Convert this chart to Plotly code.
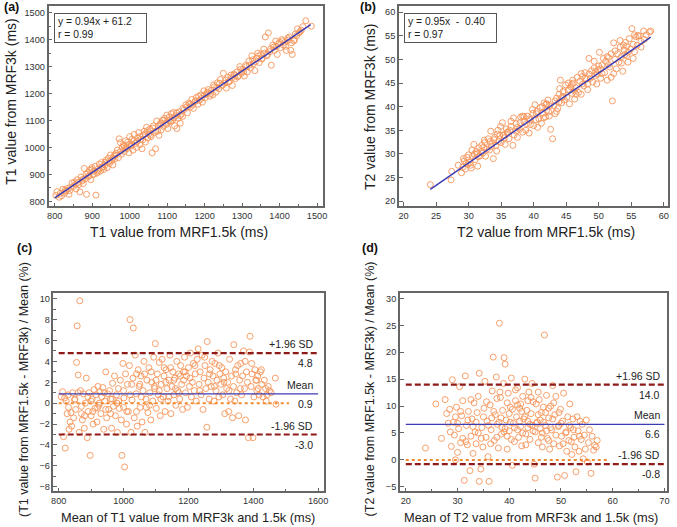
import plotly.graph_objects as go

W, H = 677, 527

# ---- (a) T1: MRF1.5k vs MRF3k (ms)
t1_x = [803, 806, 812, 818, 822, 826, 830, 834, 838, 842,
        846, 850, 853, 857, 860, 864, 867, 870, 873, 876,
        879, 882, 885, 888, 890, 893, 896, 899, 902, 905,
        908, 910, 913, 916, 919, 922, 925, 928, 931, 934,
        937, 940, 943, 946, 949, 952, 955, 958, 961, 964,
        967, 970, 972, 975, 978, 980, 983, 986, 989, 992,
        995, 998, 1000, 1003, 1006, 1009, 1012, 1015, 1018, 1021,
        1024, 1027, 1030, 1033, 1036, 1039, 1042, 1045, 1048, 1051,
        1054, 1057, 1060, 1063, 1066, 1069, 1072, 1075, 1078, 1081,
        1084, 1087, 1090, 1093, 1096, 1099, 1102, 1105, 1108, 1111,
        1114, 1117, 1120, 1123, 1126, 1129, 1132, 1135, 1138, 1141,
        1145, 1150, 1154, 1158, 1162, 1166, 1170, 1174, 1178, 1182,
        1186, 1190, 1194, 1198, 1202, 1206, 1210, 1214, 1218, 1222,
        1226, 1230, 1234, 1238, 1242, 1246, 1250, 1254, 1258, 1262,
        1266, 1270, 1274, 1278, 1282, 1286, 1290, 1294, 1298, 1302,
        1306, 1310, 1314, 1318, 1322, 1326, 1330, 1334, 1338, 1342,
        1346, 1350, 1354, 1358, 1362, 1366, 1370, 1374, 1378, 1382,
        1386, 1390, 1394, 1398, 1402, 1406, 1410, 1414, 1418, 1422,
        1426, 1430, 1434, 1438, 1442, 1448, 1455, 1462, 1470, 1485,
        815, 828, 840, 855, 862, 875, 884, 892, 898, 905,
        915, 926, 935, 945, 955, 962, 975, 985, 990, 997,
        1005, 1012, 1020, 1028, 1035, 1041, 1047, 1055, 1062, 1070,
        1076, 1083, 1090, 1098, 1104, 1110, 1118, 1125, 1135, 1142,
        1152, 1160, 1168, 1176, 1184, 1192, 1200, 1208, 1216, 1224,
        1232, 1240, 1248, 1256, 1264, 1272, 1280, 1288, 1296, 1304,
        1312, 1320, 1328, 1336, 1344, 1352, 1360, 1368, 1376, 1384,
        1392, 1400, 1408, 1416, 1424, 1432, 1440, 1446, 1452, 1458]
t1_y = [822, 836, 815, 820, 845, 830, 838, 848, 826, 852,
        868, 855, 872, 846, 880, 862, 835, 890, 876, 866,
        922, 884, 826, 906, 892, 916, 880, 925, 900, 912,
        930, 823, 905, 920, 938, 912, 944, 925, 918, 935,
        952, 925, 960, 940, 972, 950, 935, 968, 958, 978,
        990, 962, 1032, 1018, 975, 1000, 1010, 985, 1025, 995,
        1020, 980, 1040, 1005, 1030, 990, 1048, 1015, 1000, 1035,
        1055, 1010, 1030, 995, 1045, 1060, 1020, 1075, 1035, 1050,
        1068, 1040, 980, 1080, 1055, 995, 1098, 1060, 1045, 1085,
        1065, 1100, 1078, 1108, 1090, 1120, 1070, 1112, 1095, 1125,
        1100, 1130, 1080, 1118, 1070, 1108, 1132, 1090, 1125, 1115,
        1140, 1158, 1128, 1165, 1150, 1178, 1145, 1170, 1185, 1160,
        1175, 1195, 1168, 1210, 1185, 1200, 1215, 1190, 1212, 1195,
        1225, 1205, 1240, 1218, 1252, 1230, 1275, 1238, 1220, 1260,
        1245, 1268, 1230, 1272, 1255, 1280, 1265, 1300, 1275, 1290,
        1265, 1305, 1280, 1320, 1295, 1340, 1310, 1285, 1330, 1350,
        1315, 1345, 1330, 1365, 1410, 1340, 1425, 1355, 1305, 1380,
        1360, 1395, 1345, 1385, 1370, 1400, 1380, 1390, 1360, 1405,
        1410, 1360, 1345, 1395, 1420, 1440, 1430, 1448, 1470, 1450,
        830, 842, 840, 862, 870, 882, 900, 895, 918, 900,
        912, 928, 945, 948, 960, 972, 985, 1005, 1000, 1010,
        1012, 1025, 1022, 1040, 1028, 1050, 1062, 1045, 1072, 1060,
        1080, 1090, 1100, 1085, 1100, 1098, 1110, 1128, 1118, 1145,
        1150, 1160, 1158, 1172, 1190, 1182, 1195, 1205, 1200, 1232,
        1222, 1238, 1232, 1250, 1242, 1258, 1268, 1262, 1290, 1280,
        1300, 1305, 1325, 1318, 1340, 1328, 1350, 1345, 1365, 1372,
        1375, 1390, 1395, 1375, 1398, 1388, 1400, 1415, 1425, 1435]

# ---- (b) T2: MRF1.5k vs MRF3k (ms)
t2_x = [24.1, 27.3, 27.4, 28.4, 28.9, 29.1, 29.3, 29.5, 29.7, 29.9,
        30.0, 30.2, 30.4, 30.6, 30.8, 31.0, 31.2, 31.4, 31.6, 31.8,
        32.0, 32.2, 32.4, 32.6, 32.8, 33.0, 33.2, 33.4, 33.6, 33.8,
        34.0, 34.2, 34.4, 34.6, 34.8, 35.0, 35.2, 35.4, 35.6, 35.8,
        36.0, 36.2, 36.5, 36.8, 37.0, 37.3, 37.5, 37.8, 38.0, 38.3,
        38.5, 38.8, 39.0, 39.3, 39.5, 39.8, 40.0, 40.2, 40.4, 40.6,
        40.8, 41.0, 41.2, 41.4, 41.6, 41.8, 42.0, 42.2, 42.4, 42.6,
        42.9, 43.1, 43.3, 43.5, 43.7, 43.9, 44.1, 44.3, 44.5, 44.7,
        44.9, 45.1, 45.3, 45.5, 45.7, 45.9, 46.1, 46.3, 46.5, 46.7,
        46.9, 47.1, 47.3, 47.5, 47.7, 47.9, 48.1, 48.3, 48.5, 48.7,
        48.9, 49.1, 49.3, 49.5, 49.7, 49.9, 50.1, 50.3, 50.5, 50.7,
        50.9, 51.1, 51.3, 51.5, 51.7, 51.9, 52.1, 52.3, 52.5, 52.7,
        52.9, 53.1, 53.3, 53.5, 53.7, 53.9, 54.1, 54.3, 54.5, 54.7,
        54.9, 55.1, 55.3, 55.5, 55.7, 55.9, 56.2, 56.5, 56.9, 57.3,
        57.8, 58.0, 29.6, 30.5, 31.5, 32.5, 33.5, 34.5, 35.5, 36.5,
        37.5, 38.5, 39.5, 40.5, 41.5, 42.5, 43.5, 44.5, 45.5, 46.5,
        47.5, 48.5, 49.5, 50.5, 51.5, 52.5, 53.5, 54.5, 55.5, 56.5,
        29.2, 30.3, 31.3, 32.3, 33.3, 34.3, 35.3, 36.3, 37.3, 38.3,
        39.3, 40.3, 41.3, 42.3, 43.3, 44.3, 45.3, 46.3, 47.3, 48.3,
        49.3, 50.3, 51.3, 52.3, 53.3, 54.3, 55.3, 44.0, 49.8, 53.8,
        31.9, 33.9, 35.9, 37.9, 39.9, 41.9, 43.9, 45.9, 47.9, 51.9,
        30.9, 34.9, 38.9, 42.0, 46.0, 50.0, 54.0, 56.0, 57.0, 36.9]
t2_y = [23.5, 24.5, 26.3, 27.6, 26.0, 27.2, 28.5, 26.8, 29.3, 27.8,
        29.8, 28.2, 27.0, 29.5, 32.0, 28.8, 30.5, 27.4, 31.3, 29.6,
        31.8, 30.2, 32.9, 29.5, 31.0, 33.2, 30.8, 34.8, 32.2, 29.0,
        33.5, 31.8, 34.2, 32.6, 33.9, 32.4, 36.6, 34.0, 32.0, 35.3,
        34.6, 33.2, 35.8, 31.8, 34.0, 36.4, 33.5, 35.2, 37.8, 34.6,
        36.8, 35.0, 38.0, 34.4, 37.2, 39.4, 36.0, 40.4, 38.5, 35.6,
        37.4, 39.8, 36.5, 38.6, 40.8, 37.8, 39.2, 41.4, 38.0, 35.2,
        33.2, 40.2, 38.5, 41.8, 39.6, 42.6, 45.6, 40.8, 43.2, 41.4,
        44.6, 42.0, 43.5, 40.6, 44.2, 42.8, 45.0, 41.6, 44.0, 46.2,
        43.0, 45.4, 42.6, 46.4, 44.4, 47.2, 45.8, 43.6, 50.2, 46.0,
        47.6, 45.2, 48.2, 46.6, 44.8, 47.8, 51.5, 46.0, 48.8, 50.2,
        47.2, 49.6, 45.6, 50.4, 48.4, 46.2, 41.2, 53.5, 50.0, 48.0,
        51.2, 49.4, 52.6, 50.6, 47.5, 52.0, 53.6, 50.8, 49.4, 54.4,
        52.2, 56.5, 53.2, 51.6, 54.8, 53.0, 55.0, 53.8, 56.0, 55.2,
        55.8, 56.0, 28.0, 30.8, 29.4, 32.4, 31.6, 35.0, 33.4, 36.9,
        35.6, 37.9, 36.2, 39.0, 37.6, 40.2, 39.0, 42.2, 43.6, 42.6,
        44.8, 46.9, 47.4, 47.0, 48.9, 51.8, 49.2, 51.5, 55.2, 52.6,
        29.0, 27.6, 30.0, 31.4, 32.6, 30.6, 34.0, 35.0, 34.8, 38.0,
        37.4, 37.2, 40.0, 38.9, 41.2, 41.9, 45.0, 43.3, 47.0, 44.8,
        49.6, 48.0, 50.6, 47.0, 54.0, 52.8, 50.2, 43.8, 46.9, 53.0,
        30.5, 33.0, 34.5, 36.6, 38.6, 40.5, 41.0, 44.8, 46.0, 51.2,
        30.0, 35.8, 36.4, 40.6, 45.6, 48.6, 51.0, 55.0, 54.2, 37.6]

# ---- (c) Bland-Altman T1: mean (ms) vs difference (%)
ba1_mean = [808, 812, 815, 818, 820, 823, 826, 829, 832, 835,
            838, 840, 843, 846, 849, 852, 855, 857, 860, 863,
            865, 867, 870, 873, 876, 879, 882, 885, 888, 891,
            894, 897, 900, 903, 906, 909, 912, 915, 918, 921,
            924, 927, 930, 933, 936, 939, 942, 945, 948, 951,
            954, 957, 960, 963, 966, 969, 972, 975, 978, 981,
            984, 987, 990, 993, 995, 998, 1001, 1003, 1006, 1009,
            1012, 1015, 1018, 1020, 1023, 1026, 1029, 1030, 1033, 1036,
            1039, 1042, 1045, 1048, 1051, 1054, 1057, 1060, 1063, 1066,
            1069, 1072, 1075, 1078, 1081, 1084, 1087, 1090, 1093, 1096,
            1098, 1101, 1104, 1107, 1110, 1113, 1116, 1119, 1122, 1125,
            1128, 1131, 1134, 1137, 1140, 1143, 1146, 1149, 1152, 1155,
            1158, 1161, 1164, 1167, 1170, 1173, 1176, 1179, 1182, 1185,
            1188, 1191, 1194, 1197, 1200, 1203, 1206, 1209, 1212, 1215,
            1218, 1221, 1224, 1227, 1230, 1233, 1236, 1239, 1242, 1245,
            1248, 1251, 1254, 1257, 1258, 1261, 1264, 1267, 1270, 1273,
            1276, 1279, 1282, 1285, 1288, 1291, 1294, 1297, 1300, 1303,
            1306, 1309, 1312, 1315, 1318, 1321, 1324, 1327, 1330, 1333,
            1336, 1339, 1340, 1343, 1346, 1349, 1352, 1355, 1358, 1361,
            1364, 1367, 1370, 1373, 1376, 1379, 1382, 1385, 1388, 1390,
            1393, 1396, 1399, 1402, 1405, 1408, 1411, 1414, 1418, 1422,
            1426, 1430, 1434, 1438, 1442, 1446, 1450, 1468, 1470, 1415,
            830, 850, 870, 890, 905, 925, 945, 965, 985, 1000,
            1010, 1025, 1040, 1055, 1070, 1085, 1100, 1115, 1130, 1145,
            1160, 1175, 1190, 1205, 1220, 1235, 1250, 1265, 1280, 1295,
            1310, 1325, 1345, 1360, 1375, 1395, 1410, 1425, 1440, 1455,
            860, 880, 900, 920, 940, 960, 980, 1000, 1020, 1040,
            1050, 1065, 1080, 1095, 1110, 1125, 1140, 1155, 1170, 1185]
ba1_diff = [0.6, 1.1, -3.2, 0.5, -4.3, 0.2, -1.0, 0.8, -2.5, -1.8,
            -0.9, -2.2, 1.0, -1.4, 0.3, -0.6, 3.9, 7.4, 2.7, -2.8,
            9.8, 1.2, -0.3, -1.6, 0.9, -2.4, 0.0, 2.4, -3.3, -0.8,
            1.0, -5.0, -1.2, 0.4, -2.0, 1.3, -0.5, 0.8, -1.8, 1.6,
            -0.2, 1.1, -1.0, 0.6, 1.5, -2.5, 0.2, 3.0, -1.4, 0.9,
            -0.6, 1.2, 0.4, -2.4, 1.9, -0.3, 2.6, -1.2, 0.8, -2.8,
            1.4, -0.5, 2.2, -1.6, -5.0, 3.8, 0.5, -6.1, 2.8, -2.0,
            1.8, -0.8, 3.6, 8.0, -2.8, 0.3, 2.4, 7.2, -1.4, 4.6,
            0.9, -2.2, 3.2, 1.6, -0.4, 2.6, -1.8, 1.2, 4.0, -2.8,
            0.4, 2.2, -0.9, 3.4, 1.0, -1.6, 2.0, 0.2, 4.4, 1.4,
            5.7, -0.5, 2.8, 0.8, 3.9, -1.2, 1.8, 4.2, 0.6, 2.6,
            -0.8, 3.2, 1.4, 0.2, 2.2, 4.6, -1.0, 1.6, 3.0, 0.8,
            2.4, -0.2, 4.0, 1.2, 2.8, 0.4, 3.6, 1.8, -0.6, 2.2,
            4.4, 1.0, 2.6, -0.4, 3.4, 1.6, 4.8, 0.6, 2.0, 3.8,
            1.2, 2.8, 0.2, 4.2, 5.2, 1.8, 3.0, 0.8, 4.6, -0.6,
            2.4, 3.6, 1.4, -2.3, 5.9, 2.0, 0.4, 3.2, 1.6, 4.0,
            2.6, 0.2, 3.8, 1.2, 2.2, 4.8, 0.6, 2.8, 1.8, 3.4,
            0.8, 2.4, -1.0, 3.0, 1.4, 2.0, -0.8, 4.2, 0.4, 2.6,
            -1.4, 1.6, 5.6, 0.2, 2.8, 1.0, 3.6, -1.2, 2.2, 3.8,
            0.8, 2.6, 5.0, 1.4, -1.6, 3.0, 2.0, -3.3, 4.9, 6.4,
            1.6, 2.8, -3.3, 0.6, 3.2, 2.2, 1.2, 2.6, 0.8, 3.0,
            1.8, 0.6, 2.2, 1.4, 0.8, 1.6, 1.2, 2.4, -0.1, 1.4,
            -0.4, 0.4, -1.0, 0.6, -0.8, 0.0, -0.6, 0.4, 0.2, -0.4,
            -0.8, 1.8, 2.8, 0.6, -0.4, 3.0, 2.2, 0.4, 2.0, 3.4,
            1.4, 2.6, 3.0, 2.4, 3.6, 1.2, 4.4, 2.8, 1.6, 3.6,
            2.0, 1.2, 3.2, 1.4, 4.0, 3.8, 2.2, 3.2, 0.2, 1.0,
            1.0, -1.2, 0.2, -0.4, 1.0, -1.0, 0.0, 1.2, 0.8, -0.8,
            1.8, 2.8, -0.2, 1.6, 1.2, 3.4, 0.6, 2.2, 1.0, 3.0]

# ---- (d) Bland-Altman T2: mean (ms) vs difference (%)
ba2_mean = [23.8, 25.8, 26.9, 27.6, 27.9, 28.2, 28.5, 28.8, 29.0, 29.2,
            29.4, 29.6, 29.8, 30.0, 30.2, 30.4, 30.6, 30.8, 31.0, 31.3,
            31.5, 31.7, 31.9, 32.1, 32.4, 32.6, 32.8, 33.0, 33.2, 33.4,
            33.6, 33.8, 34.0, 34.2, 34.2, 34.5, 34.7, 34.9, 35.1, 35.3,
            35.5, 35.7, 35.9, 36.1, 36.3, 36.5, 36.7, 36.9, 37.1, 37.3,
            37.5, 37.7, 37.9, 38.1, 38.3, 38.5, 38.7, 38.9, 39.0, 39.2,
            39.4, 39.6, 39.8, 40.0, 40.2, 40.4, 40.6, 40.8, 41.0, 41.2,
            41.4, 41.6, 41.8, 42.0, 42.2, 42.4, 42.6, 42.8, 43.0, 43.2,
            43.4, 43.6, 43.8, 44.0, 44.2, 44.4, 44.6, 44.8, 45.0, 45.2,
            45.4, 45.6, 45.8, 46.0, 46.2, 46.4, 46.6, 46.8, 47.0, 47.2,
            47.4, 47.6, 47.8, 48.0, 48.2, 48.4, 48.6, 48.8, 49.0, 49.3,
            49.5, 49.7, 49.9, 50.1, 50.3, 50.5, 50.7, 50.9, 51.1, 51.3,
            51.5, 51.7, 51.9, 52.1, 52.3, 52.5, 52.7, 52.9, 53.1, 53.3,
            53.5, 53.7, 53.9, 54.1, 54.3, 54.5, 54.7, 54.9, 55.1, 55.3,
            55.5, 55.8, 56.0, 56.3, 56.5, 56.8, 57.0, 30.0, 31.0, 32.0,
            33.0, 34.0, 35.0, 36.0, 37.0, 38.0, 39.0, 40.0, 41.0, 42.0,
            43.0, 44.0, 45.0, 46.0, 47.0, 48.0, 49.0, 50.0, 51.0, 52.0,
            36.4, 37.6, 38.4, 39.6, 40.4, 41.6, 42.4, 43.6, 44.4, 45.6,
            46.4, 47.6, 48.4, 49.6, 50.4, 51.6, 52.4, 53.6, 28.6, 29.6,
            30.6, 31.6, 32.6, 33.6, 34.6, 35.6, 36.6, 37.6, 38.6, 39.6,
            40.6, 41.6, 42.6, 43.6, 44.6, 45.6, 46.6, 47.6, 48.6, 49.6,
            38.2, 39.2, 40.2, 41.2, 42.2, 43.2, 44.2, 45.2, 46.2, 47.2]
ba2_diff = [2.2, 10.4, 4.0, 11.2, 8.6, 6.8, 9.4, 2.5, 14.9, 7.0,
            4.6, 0.0, 9.8, 1.4, 5.8, 13.6, 3.2, 8.2, 11.0, -3.8,
            15.6, 6.4, 2.8, 9.0, -2.0, 4.4, 7.6, 1.2, 10.6, 5.2,
            3.0, 8.8, 11.8, 16.1, -4.0, -1.7, 6.0, 2.4, 9.6, 14.6,
            4.2, 7.2, 0.6, -4.0, 10.2, 5.6, 12.8, 19.1, 3.6, 8.4,
            15.4, 6.6, 2.2, 25.4, 11.6, 4.8, 9.2, 14.2, 19.0, 17.8,
            7.4, 2.0, 12.4, 5.4, 9.8, 15.2, -1.0, 6.8, 3.4, 11.0,
            8.0, 13.4, 4.2, 9.6, 6.2, 2.6, 11.8, 7.6, 15.0, 4.8,
            9.2, 6.0, 12.6, 3.8, 8.6, 14.2, 5.4, -0.8, -3.4, 10.4,
            7.0, 3.2, 11.2, 5.8, 8.8, 2.4, 9.8, 23.2, 6.4, 12.0,
            4.0, 7.8, 2.0, 10.0, 5.6, 13.8, 3.0, 8.4, 11.8, -3.2,
            6.2, 2.6, 9.4, 4.4, 7.2, 12.4, -2.9, 5.0, 1.6, 8.0,
            3.6, 10.4, 6.0, 1.0, 7.6, 4.2, 2.4, -2.2, 8.0, 5.4,
            1.6, 7.2, 3.8, 6.6, 0.2, 4.6, 2.0, 7.4, -0.4, 3.2,
            5.6, -2.5, 4.4, 1.8, 2.7, 2.4, 3.6, 6.8, 4.0, 7.4,
            6.2, 5.0, 8.0, 6.4, 9.0, 7.0, 5.2, 8.6, 6.0, 7.2,
            8.0, 6.6, 5.2, 7.4, 8.8, 6.0, 4.6, 6.8, 5.2, 3.4,
            3.0, 4.2, 7.8, 10.6, 3.8, 5.6, 9.0, 11.0, 6.4, 8.4,
            5.0, 3.6, 7.6, 8.8, 3.0, 6.4, 5.6, 4.4, 5.2, 8.0,
            9.0, 3.4, 11.2, 7.0, 4.0, 10.8, 7.8, 11.4, 6.0, 4.4,
            9.4, 10.2, 5.0, 7.2, 10.8, 12.6, 7.0, 9.6, 10.6, 6.4,
            12.6, 5.8, 7.0, 13.0, 10.4, 2.8, 11.6, 6.8, 4.2, 5.4]

# regression fits (slope, intercept, x from, x to) and Bland-Altman limits
fit_t1 = (0.94, 61.2, 800, 1483)
fit_t2 = (0.95, -0.40, 24.1, 58.0)
limits_t1 = {"upper": 4.8, "mean": 0.9, "lower": -3.0}
limits_t2 = {"upper": 14.0, "mean": 6.6, "lower": -0.8}
span_t1 = (800, 1600, 1510)   # lines from, to, zero line to
span_t2 = (20, 70, 59)

ORANGE = "#F5955A"
BLUE = "#3C3CB4"
DRED = "#8E1A1A"
ZERO = "#F28A2E"
FONT = "Arial, Liberation Sans, sans-serif"


def px(x): return x / W
def py(y): return 1 - y / H


fig = go.Figure()

panels = [
    ("x", "y", t1_x, t1_y),
    ("x2", "y2", t2_x, t2_y),
    ("x3", "y3", ba1_mean, ba1_diff),
    ("x4", "y4", ba2_mean, ba2_diff),
]
for xa, ya, xs, ys in panels:
    fig.add_trace(go.Scatter(
        x=xs, y=ys, xaxis=xa, yaxis=ya, mode="markers",
        marker=dict(symbol="circle-open", size=6, color=ORANGE, line=dict(width=0.9, color=ORANGE)),
        showlegend=False, hoverinfo="skip"))

for (m, q, x0, x1), xa, ya in [(fit_t1, "x", "y"), (fit_t2, "x2", "y2")]:
    fig.add_trace(go.Scatter(
        x=[x0, x1], y=[m * x0 + q, m * x1 + q], xaxis=xa, yaxis=ya, mode="lines",
        line=dict(color=BLUE, width=1.5), showlegend=False, hoverinfo="skip"))

annotations = []
shapes = []
for lim, (x0, x1, xz), xr, yr, xt in [(limits_t1, span_t1, "x3", "y3", 1590),
                                       (limits_t2, span_t2, "x4", "y4", 69.6)]:
    shapes.append(dict(type="line", xref=xr, yref=yr, x0=x0, x1=xz, y0=0, y1=0,
                       line=dict(color=ZERO, width=2, dash="dot")))
    for key, col, dash, w in [("upper", DRED, "6px,3px", 2.2), ("lower", DRED, "6px,3px", 2.2),
                              ("mean", BLUE, "solid", 1.2)]:
        shapes.append(dict(type="line", xref=xr, yref=yr, x0=x0, x1=x1,
                           y0=lim[key], y1=lim[key], line=dict(color=col, width=w, dash=dash)))
    for key, lab in [("upper", "+1.96 SD"), ("mean", "Mean"), ("lower", "-1.96 SD")]:
        annotations.append(dict(xref=xr, yref=yr, x=xt, y=lim[key], text=lab, showarrow=False,
                                xanchor="right", yanchor="bottom", yshift=1,
                                font=dict(size=10.5, color="#222")))
        annotations.append(dict(xref=xr, yref=yr, x=xt, y=lim[key], text=f"{lim[key]:.1f}",
                                showarrow=False, xanchor="right", yanchor="top", yshift=-2,
                                font=dict(size=10.5, color="#222")))

# equation boxes
for txt, x0 in [("y = 0.94x + 61.2<br>r = 0.99", 53), ("y = 0.95x  -  0.40<br>r = 0.97", 406)]:
    annotations.append(dict(xref="paper", yref="paper", x=px(x0), y=py(12.7), text=txt,
                            showarrow=False, xanchor="left", yanchor="top", align="left",
                            width=85, height=22, borderpad=3, borderwidth=1, bordercolor="#555",
                            bgcolor="white", font=dict(size=10.3, color="#222")))

# panel letters
for lab, x0, y0 in [("(a)", 0, 7), ("(b)", 360, 7), ("(c)", 13, 248), ("(d)", 362, 248)]:
    annotations.append(dict(xref="paper", yref="paper", x=px(x0), y=py(y0), text=f"<b>{lab}</b>",
                            showarrow=False, xanchor="left", yanchor="middle",
                            font=dict(size=12.5, color="#111")))

# axis titles
titles = [
    ("T1 value from MRF1.5k (ms)", 179, 232, 0, 14),
    ("T1 value from MRF3k (ms)", 9, 102, -90, 14),
    ("T2 value from MRF1.5k (ms)", 550, 232, 0, 14),
    ("T2 value from MRF3k (ms)", 372, 107, -90, 14),
    ("Mean of T1 value from MRF3k and 1.5k (ms)", 188, 518, 0, 12.8),
    ("(T1 value from MRF1.5k - MRF3k) / Mean (%)", 22, 390, -90, 12.5),
    ("Mean of T2 value from MRF3k and 1.5k (ms)", 535, 518, 0, 12.8),
    ("(T2 value from MRF1.5k - MRF3k) / Mean (%)", 372, 390, -90, 12.5),
]
for txt, x0, y0, ang, fs in titles:
    annotations.append(dict(xref="paper", yref="paper", x=px(x0), y=py(y0), text=txt,
                            showarrow=False, xanchor="center", yanchor="middle", textangle=ang,
                            font=dict(size=fs, color="#222")))


def axis(dom, rng, anchor, dtick, minor=None):
    a = dict(domain=dom, range=rng, anchor=anchor, dtick=dtick, tick0=0,
             showline=True, mirror=True, linecolor="#666", linewidth=1.5,
             ticks="inside", ticklen=4, tickcolor="#666", showgrid=False, zeroline=False,
             tickfont=dict(size=9.2, color="#333"))
    if minor:
        a["minor"] = dict(dtick=minor, tick0=0, ticks="inside", ticklen=3, tickcolor="#666",
                          showgrid=False)
    return a


fig.update_layout(
    width=W, height=H, margin=dict(l=0, r=0, t=0, b=0),
    paper_bgcolor="white", plot_bgcolor="white",
    font=dict(family=FONT, color="#222"),
    xaxis=axis([px(47), px(324)], [783.4, 1515], "y", 100, 50),
    yaxis=axis([py(206.7), py(6)], [781.5, 1524.8], "x", 100, 50),
    xaxis2=axis([px(401), px(672.5)], [19.27, 60.58], "y2", 5),
    yaxis2=axis([py(206.5), py(6)], [18.95, 61.3], "x2", 5),
    xaxis3=axis([px(52), px(325)], [783.8, 1617], "y3", 200, 100),
    yaxis3=axis([py(492.3), py(293.3)], [-8.44, 10.57], "x3", 2, 1),
    xaxis4=axis([px(402), px(672)], [18.85, 70.5], "y4", 10, 5),
    yaxis4=axis([py(492.3), py(293.3)], [-5.85, 31.06], "x4", 5),
    shapes=shapes, annotations=annotations,
)

# the page's default body margin would push the 677x527 figure out of the window
fig.write_html("out.html", config={"displayModeBar": False},
               post_script="document.body.style.margin='0';")
